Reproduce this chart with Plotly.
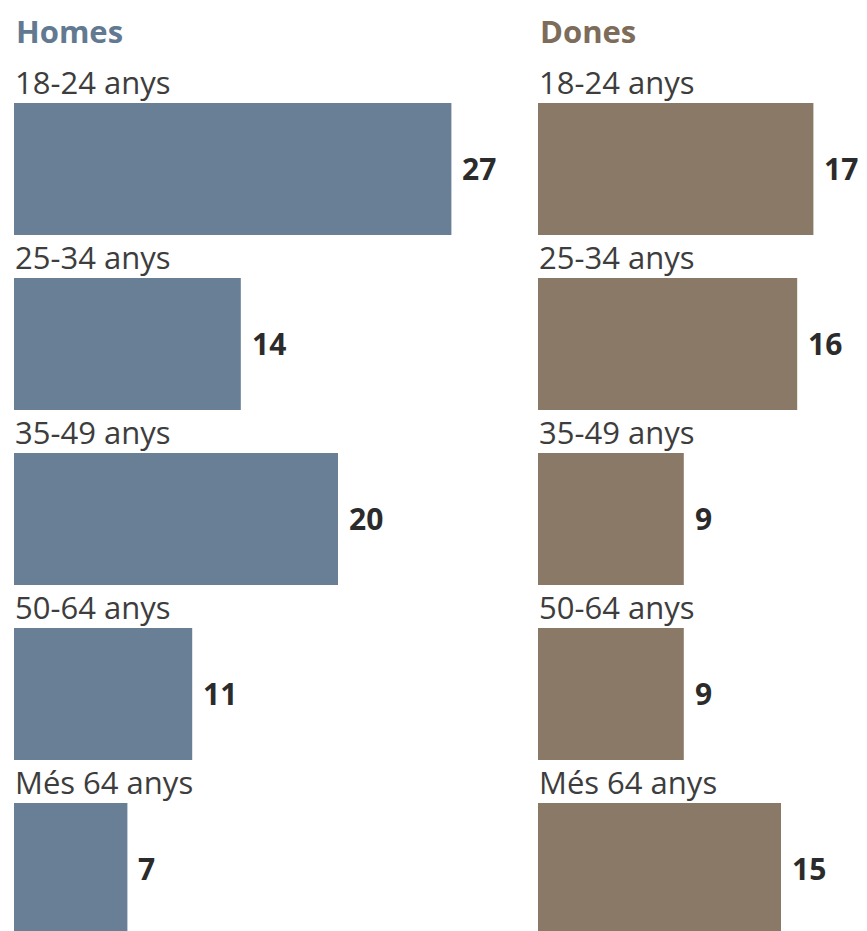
import plotly.graph_objects as go

categories = ["18-24 anys", "25-34 anys", "35-49 anys", "50-64 anys", "Més 64 anys"]
homes = [27, 14, 20, 11, 7]
dones = [17, 16, 9, 9, 15]
panel_titles = ["Homes", "Dones"]

homes_color = "#687f96"
dones_color = "#8a7967"
homes_title_color = "#627a91"
dones_title_color = "#7d6c5a"
FONT = "Open Sans, Lato, sans-serif"

fig = go.Figure()

fig.add_trace(go.Bar(y=categories, x=homes, orientation="h", marker_color=homes_color,
                     marker_line_width=0, width=0.754, xaxis="x", yaxis="y",
                     hoverinfo="skip", showlegend=False))
fig.add_trace(go.Bar(y=categories, x=dones, orientation="h", marker_color=dones_color,
                     marker_line_width=0, width=0.754, xaxis="x2", yaxis="y2",
                     hoverinfo="skip", showlegend=False))

W, H = 867, 931
OFF = 8  # page body margin offset
px_per_unit = 16.2
left0 = 14 - OFF
right0 = 538 - OFF
range_l = 30
range_r = 20

spacing = 175
c0 = 169 - OFF
ytop = 0 - c0 / spacing
ybot = ytop + H / spacing

axis_common = dict(showgrid=False, zeroline=False, showticklabels=False, showline=False, ticks="")

fig.update_layout(
    width=W, height=H,
    margin=dict(l=0, r=0, t=0, b=0),
    paper_bgcolor="white", plot_bgcolor="white",
    xaxis=dict(domain=[left0 / W, (left0 + range_l * px_per_unit) / W], range=[0, range_l], **axis_common),
    xaxis2=dict(domain=[right0 / W, min(1.0, (right0 + range_r * px_per_unit) / W)], range=[0, range_r], **axis_common),
    yaxis=dict(domain=[0, 1], range=[ybot, ytop], type="category", categoryorder="array",
               categoryarray=categories, anchor="x", **axis_common),
    yaxis2=dict(domain=[0, 1], range=[ybot, ytop], type="category", categoryorder="array",
                categoryarray=categories, anchor="x2", **axis_common),
    font=dict(family=FONT),
)

annotations = []
for xref, yref, vals in [("x", "y", homes), ("x2", "y2", dones)]:
    for cat, v in zip(categories, vals):
        annotations.append(dict(x=0, y=cat, xref=xref, yref=yref, text=cat, showarrow=False,
                                xanchor="left", yanchor="bottom", yshift=64, xshift=-1,
                                font=dict(family=FONT, size=31, color="#3d3d3d")))
        annotations.append(dict(x=v, y=cat, xref=xref, yref=yref, text="<b>%d</b>" % v, showarrow=False,
                                xanchor="left", yanchor="middle", xshift=9, yshift=1,
                                font=dict(family=FONT, size=30, color="#2b2b2b")))

annotations.append(dict(x=left0 / W, y=1, xref="paper", yref="paper",
                        text="<b>%s</b>" % panel_titles[0], showarrow=False, xanchor="left", yanchor="top",
                        font=dict(family=FONT, size=31, color=homes_title_color)))
annotations.append(dict(x=right0 / W, y=1, xref="paper", yref="paper",
                        text="<b>%s</b>" % panel_titles[1], showarrow=False, xanchor="left", yanchor="top",
                        font=dict(family=FONT, size=31, color=dones_title_color)))
fig.update_layout(annotations=annotations)

fig.write_html("out.html")
